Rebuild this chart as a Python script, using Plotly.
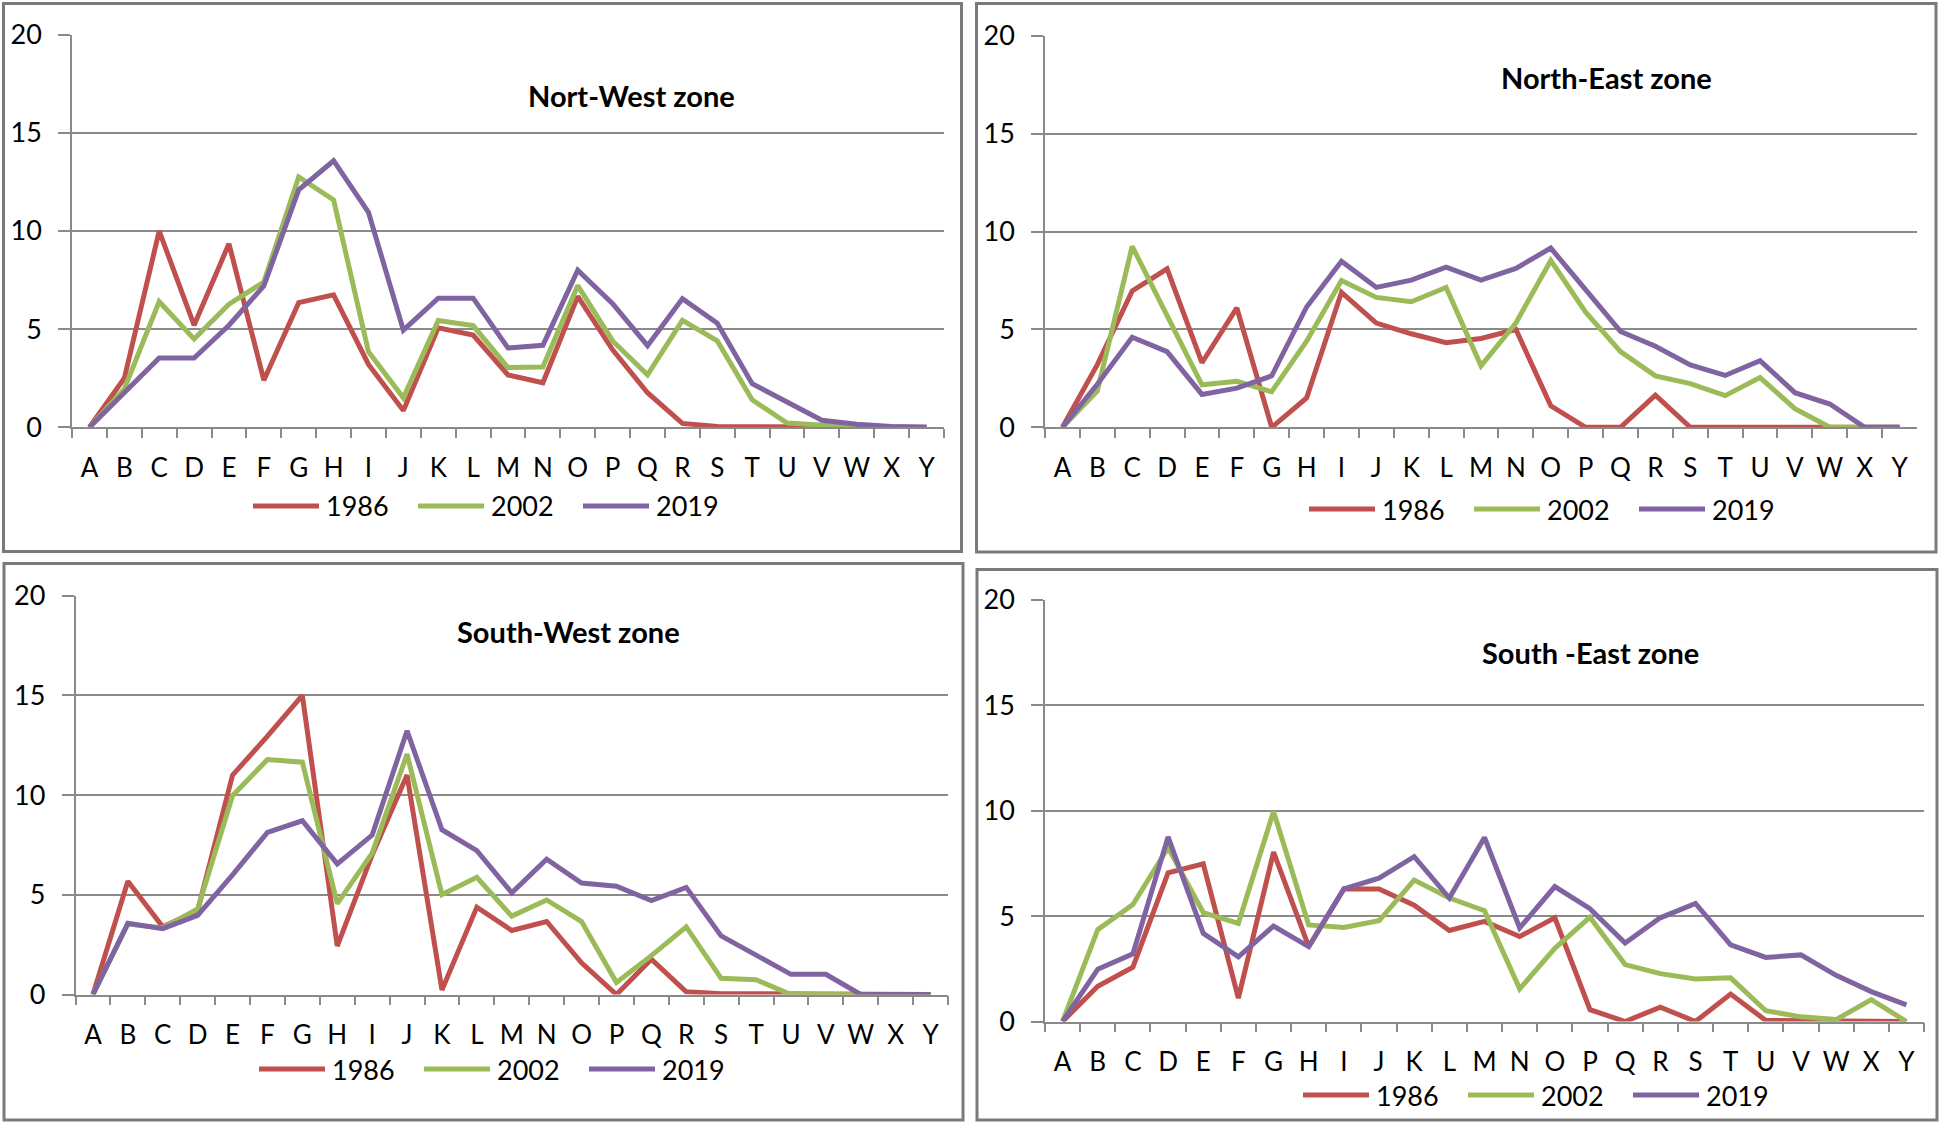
import plotly.graph_objects as go
from plotly.subplots import make_subplots

W, H = 1946, 1124

categories = list("ABCDEFGHIJKLMNOPQRSTUVWXY")
years = ["1986", "2002", "2019"]
colors = ["#C0504D", "#9BBB59", "#8064A2"]

# Nort-West zone
nw_1986 = [0, 2.5, 10.0, 5.2, 9.35, 2.4, 6.35, 6.75, 3.2, 0.85, 5.07, 4.7, 2.67, 2.27, 6.67, 3.95, 1.76, 0.2, 0.04, 0.03, 0.05, 0, 0, 0, 0]
nw_2002 = [0, 1.95, 6.4, 4.5, 6.27, 7.4, 12.76, 11.58, 3.85, 1.5, 5.44, 5.18, 3.04, 3.07, 7.22, 4.4, 2.67, 5.45, 4.4, 1.4, 0.22, 0.13, 0, 0, 0]
nw_2019 = [0, 1.76, 3.53, 3.53, 5.2, 7.2, 12.1, 13.58, 10.95, 4.95, 6.58, 6.58, 4.04, 4.18, 8.0, 6.3, 4.16, 6.55, 5.3, 2.22, 1.3, 0.36, 0.16, 0.04, 0]

# North-East zone
ne_1986 = [0, 3.2, 6.97, 8.1, 3.3, 6.1, 0, 1.5, 6.9, 5.33, 4.78, 4.32, 4.54, 5.0, 1.1, 0, 0, 1.64, 0, 0, 0, 0, 0, 0, 0]
ne_2002 = [0, 1.86, 9.25, 5.7, 2.17, 2.35, 1.82, 4.4, 7.5, 6.64, 6.42, 7.15, 3.14, 5.33, 8.52, 5.88, 3.87, 2.63, 2.23, 1.62, 2.54, 0.95, 0, 0, 0]
ne_2019 = [0, 2.2, 4.6, 3.87, 1.68, 2.0, 2.63, 6.15, 8.49, 7.15, 7.52, 8.19, 7.52, 8.12, 9.16, 7.06, 4.9, 4.14, 3.19, 2.65, 3.41, 1.77, 1.19, 0, 0]

# South-West zone
sw_1986 = [0, 5.68, 3.39, 4.2, 11.0, 12.95, 15.0, 2.43, 7.0, 11.0, 0.23, 4.38, 3.21, 3.66, 1.59, 0, 1.77, 0.14, 0.04, 0.04, 0, 0, 0, 0, 0]
sw_2002 = [0, 3.53, 3.34, 4.29, 9.97, 11.78, 11.65, 4.56, 7.09, 12.05, 5.01, 5.88, 3.93, 4.74, 3.66, 0.6, 1.95, 3.39, 0.81, 0.74, 0, 0, 0, 0, 0]
sw_2019 = [0, 3.57, 3.3, 3.97, 6.0, 8.13, 8.71, 6.55, 7.99, 13.22, 8.26, 7.21, 5.1, 6.78, 5.59, 5.43, 4.71, 5.37, 2.94, 1.95, 1.01, 1.01, 0, 0, 0]

# South -East zone
se_1986 = [0, 1.67, 2.58, 7.05, 7.48, 1.11, 8.04, 3.55, 6.29, 6.29, 5.52, 4.32, 4.75, 4.03, 4.92, 0.56, 0, 0.68, 0, 1.3, 0.05, 0.05, 0.05, 0.03, 0]
se_2002 = [0, 4.36, 5.55, 8.25, 5.17, 4.66, 9.96, 4.58, 4.46, 4.78, 6.71, 5.86, 5.26, 1.55, 3.47, 4.95, 2.7, 2.27, 2.02, 2.07, 0.51, 0.22, 0.09, 1.04, 0]
se_2019 = [0, 2.48, 3.21, 8.76, 4.18, 3.07, 4.53, 3.55, 6.29, 6.8, 7.82, 5.86, 8.73, 4.44, 6.4, 5.35, 3.72, 4.92, 5.6, 3.64, 3.04, 3.16, 2.19, 1.42, 0.79]

# layout of each panel in pixels: plot box (x0, x1, ytop, ybottom), panel frame, title centre, legend start/y
panels = [
    dict(title="Nort-West zone", series=[nw_1986, nw_2002, nw_2019],
         plot=(72, 944, 34.7, 427.3), frame=(3.5, 961.5, 3.5, 551.5),
         title_xy=(631, 95), legend_x=253, legend_y=506),
    dict(title="North-East zone", series=[ne_1986, ne_2002, ne_2019],
         plot=(1045, 1917, 36, 427.3), frame=(976.5, 1936, 3.5, 552),
         title_xy=(1606, 78), legend_x=1309, legend_y=509),
    dict(title="South-West zone", series=[sw_1986, sw_2002, sw_2019],
         plot=(75.5, 948, 595.6, 994.5), frame=(4, 963, 563.5, 1120),
         title_xy=(568, 631), legend_x=259, legend_y=1069),
    dict(title="South -East zone", series=[se_1986, se_2002, se_2019],
         plot=(1045, 1924, 600, 1021.5), frame=(977, 1937, 569.5, 1120),
         title_xy=(1590, 652), legend_x=1303, legend_y=1095),
]


def fx(x):
    return x / W


def fy(y):
    return 1 - y / H


fig = make_subplots(rows=2, cols=2)

grid = "#8a8a8a"
shapes = []
annotations = []

for i, p in enumerate(panels):
    row, col = i // 2 + 1, i % 2 + 1
    for year, color, vals in zip(years, colors, p["series"]):
        fig.add_trace(go.Scatter(x=categories, y=vals, mode="lines", name=year,
                                 line=dict(color=color, width=5),
                                 showlegend=False),
                      row=row, col=col)

    x0, x1, yt, yb = p["plot"]
    sfx = "" if i == 0 else str(i + 1)
    fig.layout["xaxis" + sfx].update(domain=[fx(x0), fx(x1)])
    fig.layout["yaxis" + sfx].update(domain=[fy(yb), fy(yt)])

    # frame round each chart
    fx0, fx1, fy0, fy1 = p["frame"]
    shapes.append(dict(type="rect", xref="paper", yref="paper",
                       x0=fx(fx0), x1=fx(fx1), y0=fy(fy1), y1=fy(fy0),
                       line=dict(color="#7a7a7a", width=3)))

    # zone title
    tx, ty = p["title_xy"]
    annotations.append(dict(text="<b>" + p["title"] + "</b>", x=fx(tx), y=fy(ty),
                            xref="paper", yref="paper", showarrow=False,
                            xanchor="center", yanchor="middle",
                            font=dict(size=29, color="black")))

    # legend drawn by hand (Excel style long line keys)
    lx, ly = p["legend_x"], p["legend_y"]
    for k, (year, color) in enumerate(zip(years, colors)):
        sx = lx + k * 165
        shapes.append(dict(type="line", xref="paper", yref="paper",
                           x0=fx(sx), x1=fx(sx + 66), y0=fy(ly), y1=fy(ly),
                           line=dict(color=color, width=5)))
        annotations.append(dict(text=year, x=fx(sx + 71), y=fy(ly),
                                xref="paper", yref="paper", showarrow=False,
                                xanchor="left", yanchor="middle",
                                font=dict(size=27, color="black")))

fig.update_xaxes(
    type="category",
    range=[-0.5, 24.5],
    automargin=False,
    tickangle=0,
    showgrid=False,
    showline=True, linecolor=grid, linewidth=1.5,
    ticks="outside", tickson="boundaries", ticklen=9, tickcolor=grid, tickwidth=1.5,
    ticklabelstandoff=17,
    tickfont=dict(size=26, color="black"),
    fixedrange=True,
)
fig.update_yaxes(
    range=[0, 20], dtick=5,
    automargin=False,
    showgrid=True, gridcolor=grid, gridwidth=1.5,
    showline=True, linecolor=grid, linewidth=1.5,
    ticks="outside", ticklen=12, tickcolor=grid, tickwidth=1.5,
    ticklabelstandoff=11,
    tickfont=dict(size=27, color="black"),
    zeroline=False,
    fixedrange=True,
)

fig.update_layout(
    width=W, height=H,
    autosize=False,
    margin=dict(l=0, r=0, t=0, b=0, autoexpand=False),
    plot_bgcolor="white",
    paper_bgcolor="white",
    font=dict(family="Lato, Calibri, sans-serif", color="black"),
    shapes=shapes,
    annotations=annotations,
    showlegend=False,
)

# the page body has a default 8px margin, drop it so the figure sits at 0,0
fig.write_html("out.html", config={"displayModeBar": False},
               post_script="document.body.style.margin='0';")
